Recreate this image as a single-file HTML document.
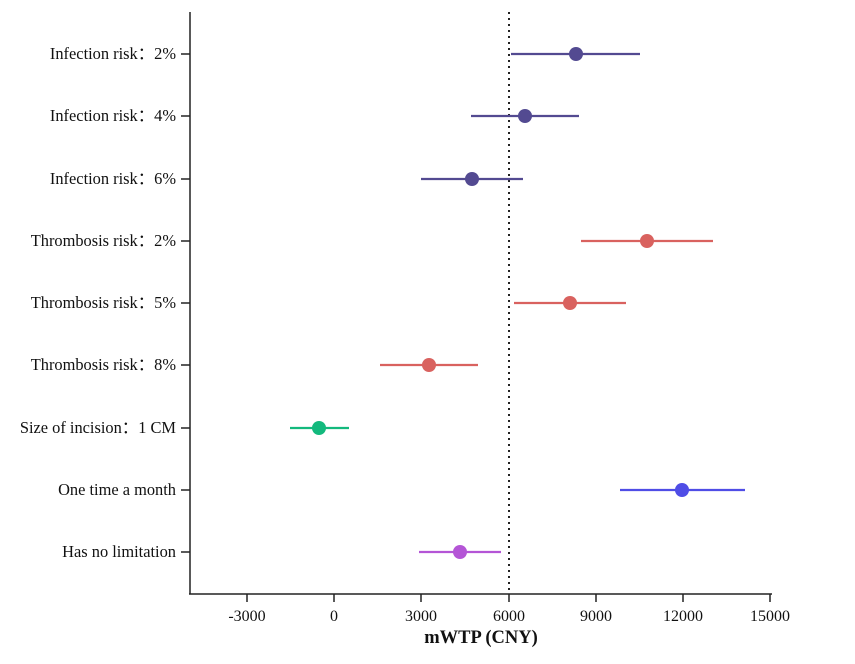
<!DOCTYPE html>
<html><head><style>body{margin:0;background:#fff}svg{display:block}</style></head><body>
<svg width="855" height="664" xmlns="http://www.w3.org/2000/svg" font-family="Liberation Serif, serif">
<rect width="855" height="664" fill="#fff"/>
<g stroke="#222" stroke-width="1.5" fill="none">
<line x1="190" y1="12" x2="190" y2="594"/>
<line x1="189" y1="594" x2="772" y2="594"/>
<line x1="247" y1="594" x2="247" y2="602"/><line x1="334" y1="594" x2="334" y2="602"/><line x1="421" y1="594" x2="421" y2="602"/><line x1="509" y1="594" x2="509" y2="602"/><line x1="596" y1="594" x2="596" y2="602"/><line x1="683" y1="594" x2="683" y2="602"/><line x1="770" y1="594" x2="770" y2="602"/>
<line x1="181" y1="54" x2="190" y2="54"/><line x1="181" y1="116" x2="190" y2="116"/><line x1="181" y1="179" x2="190" y2="179"/><line x1="181" y1="241" x2="190" y2="241"/><line x1="181" y1="303" x2="190" y2="303"/><line x1="181" y1="365" x2="190" y2="365"/><line x1="181" y1="428" x2="190" y2="428"/><line x1="181" y1="490" x2="190" y2="490"/><line x1="181" y1="552" x2="190" y2="552"/>
</g>
<line x1="509" y1="12" x2="509" y2="594" stroke="#222" stroke-width="2" stroke-dasharray="2,4"/>
<g font-size="16.4" fill="#111" text-anchor="end">
<text x="176" y="59">Infection risk：2%</text>
<text x="176" y="121">Infection risk：4%</text>
<text x="176" y="184">Infection risk：6%</text>
<text x="176" y="246">Thrombosis risk：2%</text>
<text x="176" y="308">Thrombosis risk：5%</text>
<text x="176" y="370">Thrombosis risk：8%</text>
<text x="176" y="433">Size of incision：1 CM</text>
<text x="176" y="495">One time a month</text>
<text x="176" y="557">Has no limitation</text>
</g>
<g font-size="16" fill="#111" text-anchor="middle">
<text x="247" y="621">-3000</text><text x="334" y="621">0</text><text x="421" y="621">3000</text><text x="509" y="621">6000</text><text x="596" y="621">9000</text><text x="683" y="621">12000</text><text x="770" y="621">15000</text>
<text x="481" y="643" font-weight="bold" font-size="18.5">mWTP (CNY)</text>
</g>
<g stroke-width="2.2">
<g stroke="#534a91" fill="#534a91">
<line x1="511" y1="54" x2="640" y2="54"/><circle cx="576" cy="54" r="7" stroke="none"/>
<line x1="471" y1="116" x2="579" y2="116"/><circle cx="525" cy="116" r="7" stroke="none"/>
<line x1="421" y1="179" x2="523" y2="179"/><circle cx="472" cy="179" r="7" stroke="none"/>
</g>
<g stroke="#d9625f" fill="#d9625f">
<line x1="581" y1="241" x2="713" y2="241"/><circle cx="647" cy="241" r="7" stroke="none"/>
<line x1="514" y1="303" x2="626" y2="303"/><circle cx="570" cy="303" r="7" stroke="none"/>
<line x1="380" y1="365" x2="478" y2="365"/><circle cx="429" cy="365" r="7" stroke="none"/>
</g>
<g stroke="#13b97d" fill="#13b97d"><line x1="290" y1="428" x2="349" y2="428"/><circle cx="319" cy="428" r="7" stroke="none"/></g>
<g stroke="#4f4de6" fill="#4f4de6"><line x1="620" y1="490" x2="745" y2="490"/><circle cx="682" cy="490" r="7" stroke="none"/></g>
<g stroke="#b455d6" fill="#b455d6"><line x1="419" y1="552" x2="501" y2="552"/><circle cx="460" cy="552" r="7" stroke="none"/></g>
</g>
</svg>
</body></html>
